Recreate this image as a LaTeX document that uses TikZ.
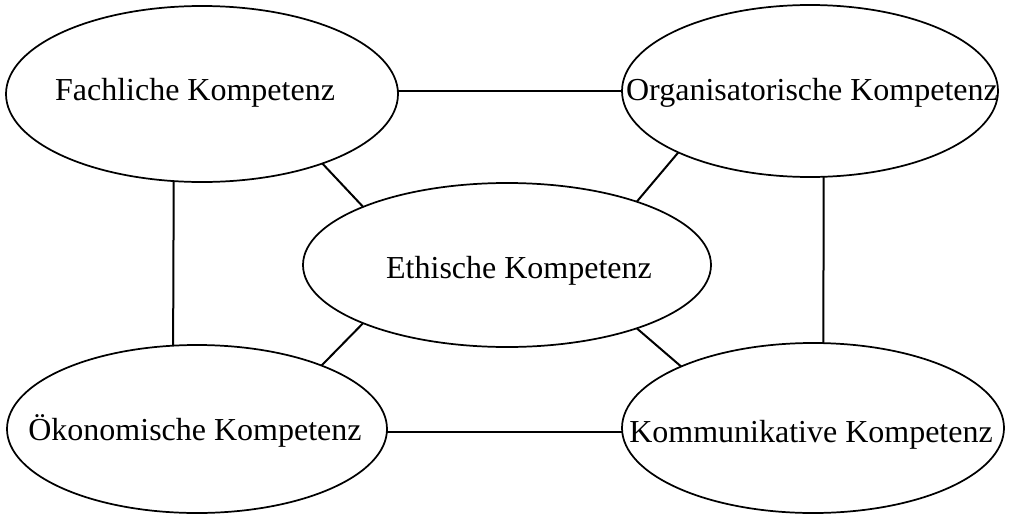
\documentclass[tikz,border=0pt]{standalone}
\usepackage{fontspec}
\setmainfont{Liberation Serif}
\usetikzlibrary{shapes.geometric}
\begin{document}
\begin{tikzpicture}[x=0.75pt,y=-0.75pt,
  ell/.style={draw=black, line width=1.3pt, ellipse, inner sep=0pt, outer sep=0pt},
  lbl/.style={anchor=base, inner sep=0pt, font=\fontsize{24}{28}\selectfont},
  conn/.style={draw=black, line width=1.5pt}]
\useasboundingbox (0,0) rectangle (1009,514);
% ellipses
\node[ell, minimum width=294pt, minimum height=132pt] (F) at (202,94) {};
\node[ell, minimum width=282pt, minimum height=129pt] (O) at (810,91) {};
\node[ell, minimum width=306pt, minimum height=123pt] (E) at (507,265) {};
\node[ell, minimum width=285pt, minimum height=126pt] (Oe) at (197,429) {};
\node[ell, minimum width=286.5pt, minimum height=127.5pt] (C) at (813,428) {};
% labels
\node[lbl] (tF) at (195,100) {Fachliche Kompetenz};
\node[lbl] (tO) at (812,100) {Organisatorische Kompetenz};
\node[lbl] (tE) at (519,278) {Ethische Kompetenz};
\node[lbl] (tOe) at (195,440) {Ökonomische Kompetenz};
\node[lbl] (tC) at (811,442) {Kommunikative Kompetenz};
% connectors
\draw[conn] (F.1.2) -- (F.1.2 -| O.west);
\draw[conn] (F.-108.4) -- (Oe.106.1);
\draw[conn] (O.-81.4) -- (C.83.3);
\draw[conn] (Oe.-1.2) -- (Oe.-1.2 -| C.west);
\draw[conn] (F.-30.4) -- (E.158.8);
\draw[conn] (O.-155.8) -- (E.26.2);
\draw[conn] (E.-158.5) -- (Oe.27.8);
\draw[conn] (E.-26.0) -- (C.155);
\end{tikzpicture}
\end{document}
